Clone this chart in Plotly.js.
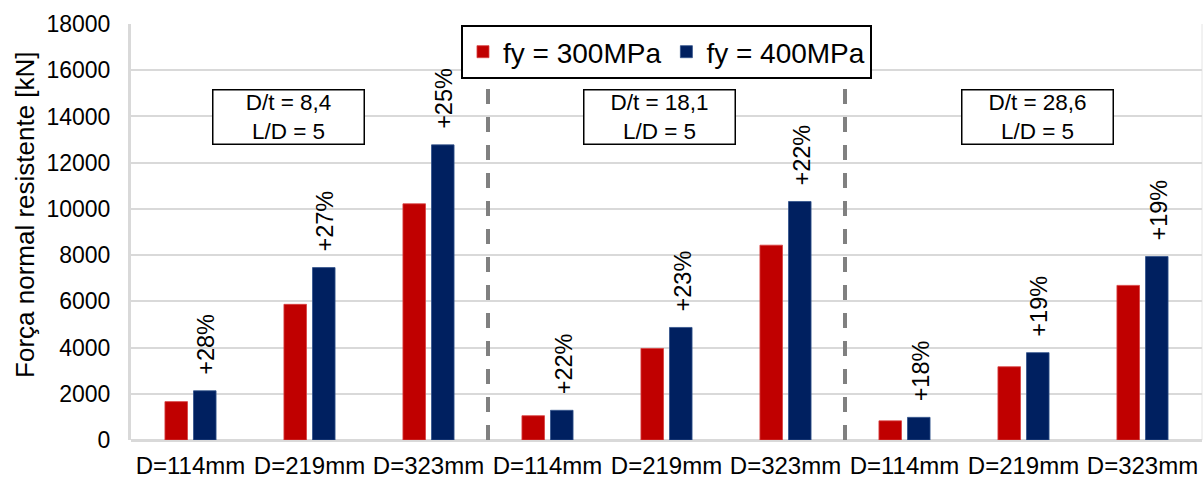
<!DOCTYPE html>
<html>
<head>
<meta charset="utf-8">
<script src="https://cdn.plot.ly/plotly-3.0.1.min.js"></script>
<style>
  html, body { margin: 0; padding: 0; background: #fff; }
  #chart { width: 1203px; height: 480px; }
</style>
</head>
<body>
<div id="chart"></div>
<script>
// Tube diameters, repeated for the three D/t groups
const diameters = ['D=114mm', 'D=219mm', 'D=323mm', 'D=114mm', 'D=219mm', 'D=323mm', 'D=114mm', 'D=219mm', 'D=323mm'];
// Resisting axial force [kN] per steel grade
const fy300 = [1660, 5870, 10220, 1050, 3960, 8430, 830, 3170, 6690];
const fy400 = [2130, 7460, 12770, 1285, 4870, 10320, 980, 3780, 7940];
// Gain of fy = 400MPa over fy = 300MPa
const gainLabels = ['+28%', '+27%', '+25%', '+22%', '+23%', '+22%', '+18%', '+19%', '+19%'];
// Group descriptions
const groupLabels = ['D/t = 8,4<br>L/D = 5', 'D/t = 18,1<br>L/D = 5', 'D/t = 28,6<br>L/D = 5'];
const yTicks = [0, 2000, 4000, 6000, 8000, 10000, 12000, 14000, 16000, 18000];
const yTitle = 'Força normal resistente [kN]';

const FONT = 'Arial, "Liberation Sans", sans-serif';
const xIdx = diameters.map((_, i) => i);

const traces = [
  { type: 'bar', name: 'fy = 300MPa', x: xIdx, y: fy300,
    marker: { color: '#C00000', line: { color: '#D84040', width: 0.8 } }, hoverinfo: 'y' },
  { type: 'bar', name: 'fy = 400MPa', x: xIdx, y: fy400,
    marker: { color: '#002060', line: { color: '#30508A', width: 0.8 } }, hoverinfo: 'y' }
];

const annotations = [];
gainLabels.forEach((t, i) => {
  annotations.push({
    x: xIdx[i], y: fy400[i], xref: 'x', yref: 'y',
    text: t, showarrow: false, textangle: -90,
    xanchor: 'center', yanchor: 'bottom', xshift: 16, yshift: 14,
    font: { family: FONT, size: 23.5, color: '#000' }
  });
});
const boxX = [0.1466, 0.4939, 0.8464];
groupLabels.forEach((t, i) => {
  annotations.push({
    x: boxX[i], y: 0.7764, xref: 'paper', yref: 'paper',
    text: t, showarrow: false, xanchor: 'center', yanchor: 'middle',
    width: 148, height: 51, bgcolor: '#fff', bordercolor: '#000', borderwidth: 1.5,
    font: { family: FONT, size: 22.5, color: '#000' }
  });
});
// y axis title, placed beside the tick labels
annotations.push({
  x: -0.099, y: 0.5433, xref: 'paper', yref: 'paper',
  text: yTitle, showarrow: false, textangle: -90,
  xanchor: 'center', yanchor: 'middle',
  font: { family: FONT, size: 26, color: '#000' }
});

// dashed separators between the D/t groups
const shapes = [2.5, 5.5].map(xv => ({
  type: 'line', xref: 'x', yref: 'y', x0: xv, x1: xv, y0: 0, y1: 18000,
  line: { color: '#808080', width: 4, dash: '15px,13px' }, layer: 'above'
}));
shapes.push({
  type: 'line', xref: 'paper', yref: 'paper', x0: 1, x1: 1, y0: 0, y1: 1,
  line: { color: '#E4E4E4', width: 1 }, layer: 'below'
});

const layout = {
  width: 1203, height: 480,
  margin: { l: 131, r: 1, t: 24, b: 40, pad: 0 },
  paper_bgcolor: '#fff', plot_bgcolor: '#fff',
  font: { family: FONT, color: '#000' },
  barmode: 'group', bargap: 0.52, bargroupgap: 0.21,
  showlegend: true,
  legend: {
    orientation: 'h', x: 0.3081, y: 0.9976, xanchor: 'left', yanchor: 'top',
    bgcolor: '#fff', bordercolor: '#000', borderwidth: 2,
    font: { family: FONT, size: 28, color: '#000' }, traceorder: 'normal'
  },
  xaxis: {
    type: 'linear', range: [-0.5, 8.5], tickvals: xIdx, ticktext: diameters,
    showgrid: false, zeroline: false, showline: false, ticks: '',
    tickfont: { family: FONT, size: 24, color: '#000' }, ticklabelstandoff: 9, fixedrange: true
  },
  yaxis: {
    range: [0, 18000], tickvals: yTicks, tickformat: 'd',
    showgrid: true, gridcolor: '#D9D9D9', gridwidth: 2,
    zeroline: true, zerolinecolor: '#D9D9D9', zerolinewidth: 3,
    showline: true, linecolor: '#D9D9D9', linewidth: 3, ticks: '',
    tickfont: { family: FONT, size: 23, color: '#000' }, ticklabelstandoff: 13,
    fixedrange: true
  },
  annotations: annotations,
  shapes: shapes
};

Plotly.newPlot('chart', traces, layout, { displayModeBar: false, staticPlot: true });
</script>
</body>
</html>
